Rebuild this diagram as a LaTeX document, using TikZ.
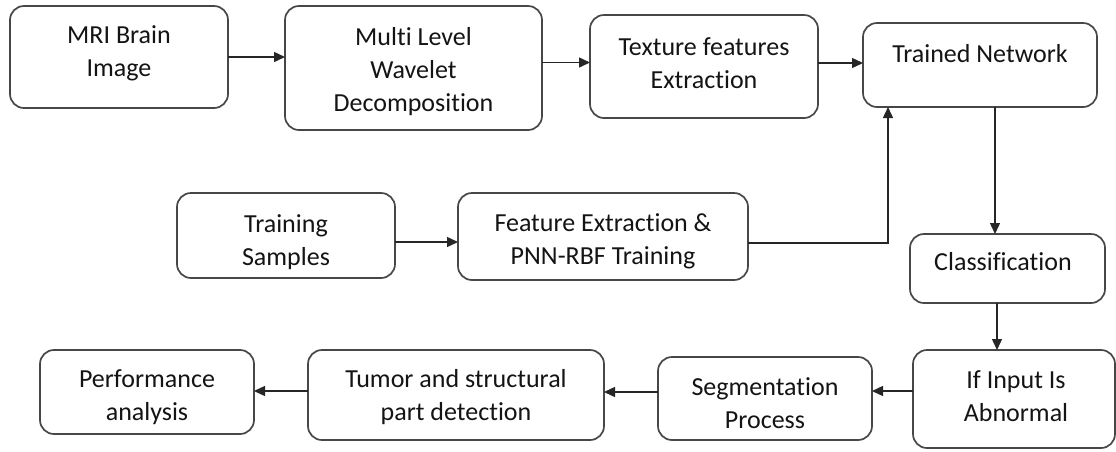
\documentclass[tikz,border=0pt]{standalone}
\usepackage{fontspec}
\setmainfont{Carlito}[Ligatures={NoCommon}]
\usetikzlibrary{arrows.meta}
\begin{document}
\begin{tikzpicture}[x=1pt,y=-1pt,
  box/.style={draw=black!72, line width=1.7pt, rounded corners=14pt, inner sep=0pt, outer sep=0pt},
  lbl/.style={align=center, inner sep=0pt, font=\fontsize{26}{33}\selectfont, text=black!92},
  arr/.style={draw=black!85, line width=1.4pt, -{Triangle[length=11pt,width=10pt]}}]
\useasboundingbox[fill=white] (0,0) rectangle (1116,451);
% boxes
\node[box, minimum width=218pt, minimum height=102pt] (b1) at (119,57) {};
\node[box, minimum width=257pt, minimum height=124pt] (b2) at (413.5,68) {};
\node[box, minimum width=228pt, minimum height=103pt] (b3) at (704,66.5) {};
\node[box, minimum width=234pt, minimum height=84pt] (b4) at (980,65) {};
\node[box, minimum width=218pt, minimum height=85pt] (b5) at (286,235.5) {};
\node[box, minimum width=290pt, minimum height=87pt] (b6) at (603,236.5) {};
\node[box, minimum width=195pt, minimum height=69pt] (b7) at (1007.5,268.5) {};
\node[box, minimum width=202pt, minimum height=98pt] (b8) at (1014,399) {};
\node[box, minimum width=214pt, minimum height=83pt] (b9) at (765,398.5) {};
\node[box, minimum width=296pt, minimum height=90pt] (b10) at (456,395) {};
\node[box, minimum width=214pt, minimum height=84pt] (b11) at (147,392) {};
% labels
\node[lbl] (t1) at (119,53.5) {MRI Brain\\Image};
\node[lbl] (t2) at (413.5,72) {Multi Level\\Wavelet\\Decomposition};
\node[lbl] (t3) at (704,63.5) {Texture features\\Extraction};
\node[lbl] (t4) at (980,54) {Trained Network};
\node[lbl] (t5) at (286,242) {Training\\Samples};
\node[lbl] (t6) at (603,241.5) {Feature Extraction \&\\PNN-RBF Training};
\node[lbl] (t7) at (1003,262) {Classification};
\node[lbl] (t8) at (1016,396) {If Input Is\\Abnormal};
\node[lbl] (t9) at (765,403.5) {Segmentation\\Process};
\node[lbl] (t10) at (456,397) {Tumor and structural\\part detection};
\node[lbl] (t11) at (147,397) {Performance\\analysis};
% anchor coordinates
\path ([yshift=4pt]b3.west) coordinate (p3);
\path ([yshift=2pt]b4.west) coordinate (p4);
\path ([yshift=-5.5pt]b6.west) coordinate (p6);
\path ([yshift=-6.5pt]b6.east) coordinate (q6);
\path ([xshift=-92pt]b4.south) coordinate (q4);
\path ([xshift=15pt]b4.south) coordinate (q7);
\path ([xshift=-10.5pt]b7.south) coordinate (r7);
\path ([yshift=8pt]b8.west) coordinate (s8);
\path ([yshift=6.5pt]b9.west) coordinate (s9);
\path ([yshift=4pt]b10.west) coordinate (s10);
% connectors
\draw[arr] (b1.east) -- (b1.east -| b2.west);
\draw[arr] (b2.east |- p3) -- (p3);
\draw[arr] (b3.east |- p4) -- (p4);
\draw[arr] (b5.east |- p6) -- (p6);
\draw[arr] (q6) -| (q4);
\draw[arr] (q7) -- (q7 |- b7.north);
\draw[arr] (r7) -- (r7 |- b8.north);
\draw[arr] (s8) -- (s8 -| b9.east);
\draw[arr] (s9) -- (s9 -| b10.east);
\draw[arr] (s10) -- (s10 -| b11.east);
\end{tikzpicture}
\end{document}
